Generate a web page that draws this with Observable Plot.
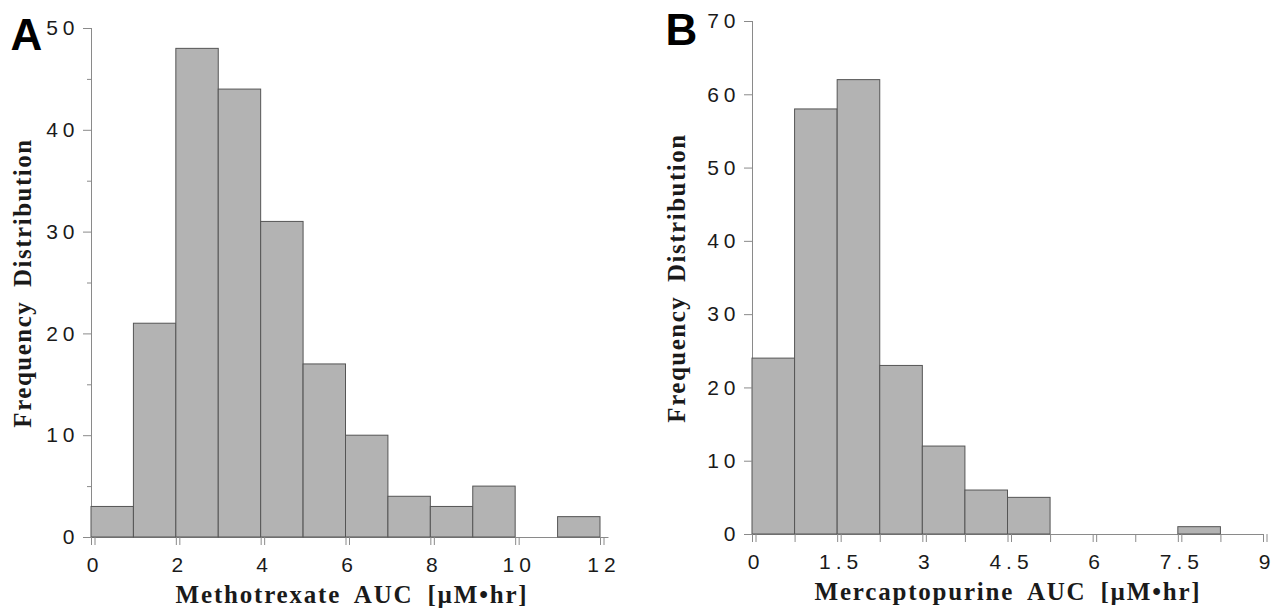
<!DOCTYPE html>
<html>
<head>
<meta charset="utf-8">
<script src="https://cdn.jsdelivr.net/npm/d3@7"></script>
<script src="https://cdn.jsdelivr.net/npm/@observablehq/plot@0.6"></script>
<style>
  html, body { margin: 0; padding: 0; background: #fff; }
  #wrap { position: relative; width: 1273px; height: 608px; }
  #panelA, #panelB { position: absolute; top: 0; }
  #panelA { left: 0; }
  #panelB { left: 636px; }
  g[aria-label$="tick label"] text { letter-spacing: 5px; font-size: 21px; font-family: "Liberation Sans", Arial, sans-serif; }
  .ttl text { letter-spacing: 1.5px; word-spacing: 6px; }
  .xttl text { letter-spacing: 1.8px; word-spacing: 6px; }
</style>
</head>
<body>
<div id="wrap"><div id="panelA"></div><div id="panelB"></div></div>
<script>
// ---- Panel A: Methotrexate ----
const mtxBinStart = [0, 1, 2, 3, 4, 5, 6, 7, 8, 9, 10, 11];
const mtxBinEnd   = [1, 2, 3, 4, 5, 6, 7, 8, 9, 10, 11, 12];
const mtxCounts   = [3, 21, 48, 44, 31, 17, 10, 4, 3, 5, 0, 2];
const mtxXTicks   = [0, 2, 4, 6, 8, 10, 12];
const mtxYTicks   = [0, 10, 20, 30, 40, 50];
const mtxYMinor   = [5, 15, 25, 35, 45];

// ---- Panel B: Mercaptopurine ----
const mpBinStart = [0, 0.75, 1.5, 2.25, 3, 3.75, 4.5, 5.25, 6, 6.75, 7.5];
const mpBinEnd   = [0.75, 1.5, 2.25, 3, 3.75, 4.5, 5.25, 6, 6.75, 7.5, 8.25];
const mpCounts   = [24, 58, 62, 23, 12, 6, 5, 0, 0, 0, 1];
const mpXTicks   = [0, 0.75, 1.5, 2.25, 3, 3.75, 4.5, 5.25, 6, 6.75, 7.5, 8.25, 9];
const mpXLabels  = [0, 1.5, 3, 4.5, 6, 7.5, 9];
const mpYTicks   = [0, 10, 20, 30, 40, 50, 60, 70];

const yTitle = "Frequency Distribution";
const xTitleA = "Methotrexate AUC [µM•hr]";
const xTitleB = "Mercaptopurine AUC [µM•hr]";

const barFill = "#b3b3b3", barStroke = "#555", axisGray = "#8a8a8a", ink = "#1a1a1a";
const tickFont = {fontSize: 21, fontFamily: "Liberation Sans, Arial, sans-serif"};
const titleFont = {fontSize: 25, fontWeight: "bold", fontFamily: "Liberation Serif, Times New Roman, serif", fill: ink};
const letterFont = {fontSize: 44, fontWeight: "bold", fontFamily: "Liberation Sans, Arial, sans-serif", fill: "#000"};
const fmt = d => String(d);

function table(starts, ends, counts) {
  return counts.map((c, i) => ({x1: starts[i], x2: ends[i], n: c})).filter(d => d.n > 0);
}

function panel({width, marginLeft, marginRight, marginTop, marginBottom, xDomain, yDomain,
                bins, xTicks, xLabels, yTicks, yMinor, baselineEnd, xTitle, letter,
                yTitleDx, titleDx, letterDx, letterDy}) {
  const marks = [
    Plot.ruleX([0], {y1: yDomain[0], y2: yDomain[1], stroke: axisGray}),
    Plot.ruleY([0], {x1: xDomain[0], x2: baselineEnd, stroke: axisGray}),
    Plot.rectY(bins, {x1: "x1", x2: "x2", y: "n", fill: barFill, stroke: barStroke, strokeWidth: 1, inset: 0}),
    Plot.axisY({ticks: yTicks, tickFormat: fmt, tickSize: 8, tickPadding: 4, stroke: axisGray, fill: ink, label: null, ...tickFont}),
    Plot.axisX({ticks: xTicks, tickSize: 8, text: null, stroke: axisGray, label: null}),
    Plot.axisX({ticks: xLabels, tickFormat: fmt, tickSize: 8, tickPadding: 12, stroke: axisGray, fill: ink, label: null, dx: 3.5, ...tickFont}),
    Plot.text([yTitle], {frameAnchor: "left", rotate: -90, dx: yTitleDx, lineAnchor: "middle", textAnchor: "middle", className: "ttl", ...titleFont}),
    Plot.text([xTitle], {frameAnchor: "bottom", dy: 57, dx: titleDx, lineAnchor: "middle", textAnchor: "middle", className: "xttl", ...titleFont}),
    Plot.text([letter], {frameAnchor: "top-left", dx: letterDx, dy: letterDy, lineAnchor: "top", textAnchor: "start", ...letterFont})
  ];
  if (yMinor) marks.splice(4, 0, Plot.axisY({ticks: yMinor, tickSize: 4, text: null, stroke: axisGray, label: null}));
  return Plot.plot({
    width, height: 608, marginLeft, marginRight, marginTop, marginBottom,
    x: {type: "linear", domain: xDomain},
    y: {type: "linear", domain: yDomain},
    style: {background: "white", color: ink, overflow: "visible"},
    marks
  });
}

document.getElementById("panelA").append(panel({
  width: 636, marginLeft: 91, marginRight: 36, marginTop: 28, marginBottom: 71,
  xDomain: [0, 12], yDomain: [0, 50],
  bins: table(mtxBinStart, mtxBinEnd, mtxCounts),
  xTicks: mtxXTicks, xLabels: mtxXTicks, yTicks: mtxYTicks, yMinor: mtxYMinor,
  baselineEnd: 12.2, xTitle: xTitleA, letter: "A",
  yTitleDx: -69, titleDx: 6, letterDx: -81, letterDy: -10
}));

document.getElementById("panelB").append(panel({
  width: 637, marginLeft: 116, marginRight: 10, marginTop: 21, marginBottom: 74,
  xDomain: [0, 9], yDomain: [0, 70],
  bins: table(mpBinStart, mpBinEnd, mpCounts),
  xTicks: mpXTicks, xLabels: mpXLabels, yTicks: mpYTicks, yMinor: null,
  baselineEnd: 9, xTitle: xTitleB, letter: "B",
  yTitleDx: -76, titleDx: 0, letterDx: -87, letterDy: -8
}));
</script>
</body>
</html>
